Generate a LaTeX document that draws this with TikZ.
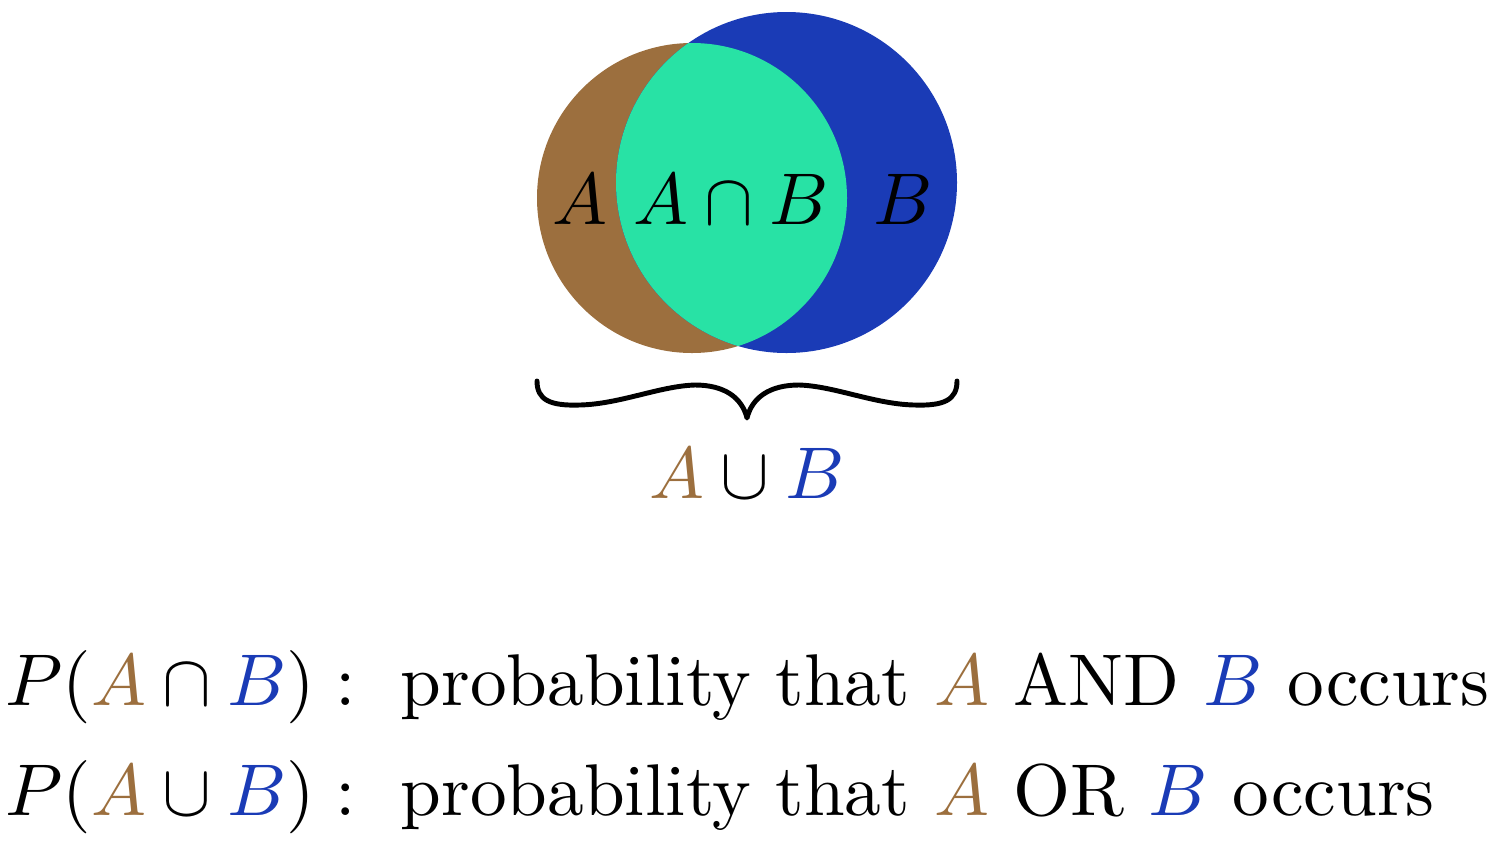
\documentclass[tikz,border=0pt]{standalone}
\usepackage{amsmath,amssymb}
\usepackage{xcolor}
\usepackage{tikz}
\definecolor{brownA}{HTML}{9C6F3E}
\definecolor{blueB}{HTML}{1A3BB6}
\definecolor{greenAB}{HTML}{28E2A5}
\tikzset{
  lbl/.style={scale=4.17, inner sep=0pt, anchor=base},
  line/.style={draw=black, line width=2.8pt, line cap=round, line join=round}
}

\begin{document}
\begin{tikzpicture}[x=0.02cm, y=-0.02cm]
  \useasboundingbox (0,0) rectangle (1497,846);
  \coordinate (CA) at (692,198);
  \coordinate (CB) at (786.5,182.5);

  % the two sets and their overlap
  \fill[brownA] (CA) circle[radius=155];
  \fill[blueB] (CB) circle[radius=170.5];
  \begin{scope}
    \clip (CA) circle[radius=155];
    \fill[greenAB] (CB) circle[radius=170.5];
  \end{scope}

  \node[lbl] (lA) at (580,224) {$A$};
  \node[lbl] (lAB) at (731,224) {$A\cap B$};
  \node[lbl] (lB) at (903,224) {$B$};

  % brace under both circles
  \draw[line] (537,381) .. controls (537,400) and (550,406) .. (580,405)
    .. controls (620,404) and (660,386) .. (695,385)
    .. controls (725,385) and (742,398) .. (747,418)
    .. controls (752,398) and (769,385) .. (799,385)
    .. controls (834,386) and (874,404) .. (914,405)
    .. controls (944,406) and (957,400) .. (957,381);

  \node[lbl] (union) at (747,498) {${\color{brownA}A}\cup{\color{blueB}B}$};

  \node[lbl, anchor=base west] (pand) at (4,705)
    {$P({\color{brownA}A}\cap{\color{blueB}B}) :\ \text{probability that }{\color{brownA}A}\text{ AND }{\color{blueB}B}\text{ occurs}$};
  \node[lbl, anchor=base west] (por) at (4,815)
    {$P({\color{brownA}A}\cup{\color{blueB}B}) :\ \text{probability that }{\color{brownA}A}\text{ OR }{\color{blueB}B}\text{ occurs}$};
\end{tikzpicture}
\end{document}
